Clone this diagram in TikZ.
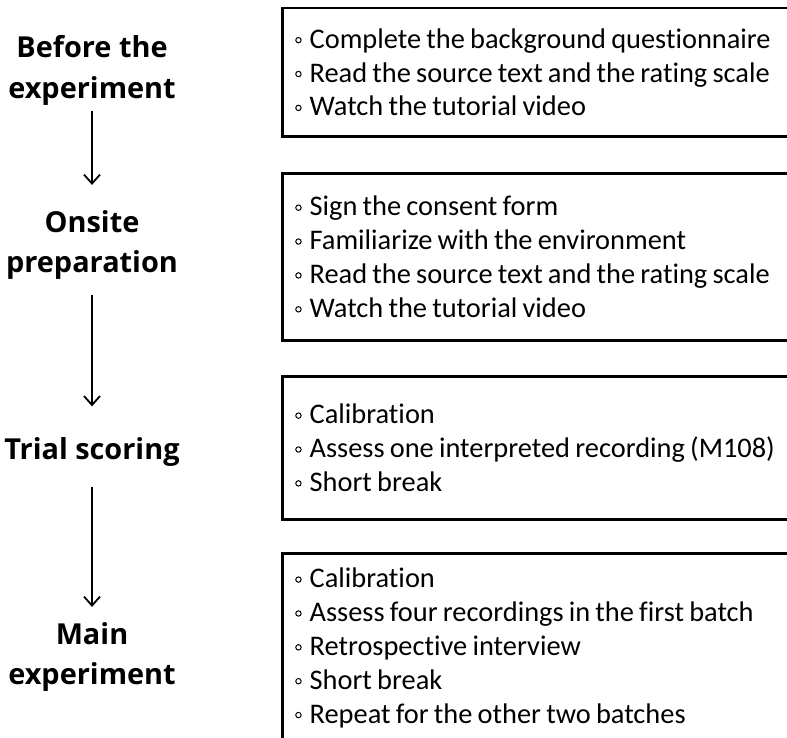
\documentclass[tikz,border=0pt]{standalone}
\usepackage{fontspec}
\setmainfont{Carlito}[Ligatures=NoCommon]
\newfontfamily\labelfont{Open Sans}
\usetikzlibrary{arrows.meta}

\newcommand{\ring}{\tikz[baseline=-8bp]\draw[line width=1bp] (0,0) circle (2.7bp);\hspace{8bp}}

\begin{document}
\begin{tikzpicture}[x=1bp,y=-1bp,
    stage/.style={align=center,inner sep=0pt,font=\labelfont\fontsize{29}{41}\selectfont\bfseries},
    stepbox/.style={draw,line width=2.5bp,anchor=north west,text width=500bp,inner xsep=13bp,align=left,
        font=\fontsize{28.5}{34}\selectfont,execute at begin node={\spaceskip=5.2bp\relax}},
    flow/.style={line width=1.8bp,-{Straight Barb[length=9bp,width=16bp]}}]

    \clip (0,0) rectangle (787,738);
    \fill[white] (0,0) rectangle (787,738);

    \node[stage] (s1) at (92,70) {Before the\\experiment};
    \node[stage] (s2) at (92,245) {Onsite\\preparation};
    \node[stage] (s3) at (92,452) {Trial scoring};
    \node[stage] (s4) at (92,657) {Main\\experiment};

    \node[stepbox,minimum height=128bp] (b1) at (281,7) {\ring Complete the background questionnaire\\\ring Read the source text and the rating scale\\\ring Watch the tutorial video};
    \node[stepbox,minimum height=167bp] (b2) at (281,172) {\ring Sign the consent form\\\ring Familiarize with the environment\\\ring Read the source text and the rating scale\\\ring Watch the tutorial video};
    \node[stepbox,minimum height=143bp] (b3) at (281,375) {\ring Calibration\\\ring Assess one interpreted recording (M108)\\\ring Short break};
    \node[stepbox,minimum height=189bp] (b4) at (281,552) {\ring Calibration\\\ring Assess four recordings in the first batch\\\ring Retrospective interview\\\ring Short break\\\ring Repeat for the other two batches};

    \draw[flow,shorten <=5.5bp,shorten >=25bp] (s1) -- (s2);
    \draw[flow,shorten <=14.5bp,shorten >=31bp] (s2) -- (s3);
    \draw[flow,shorten <=20.5bp,shorten >=15bp] (s3) -- (s4);
\end{tikzpicture}
\end{document}
